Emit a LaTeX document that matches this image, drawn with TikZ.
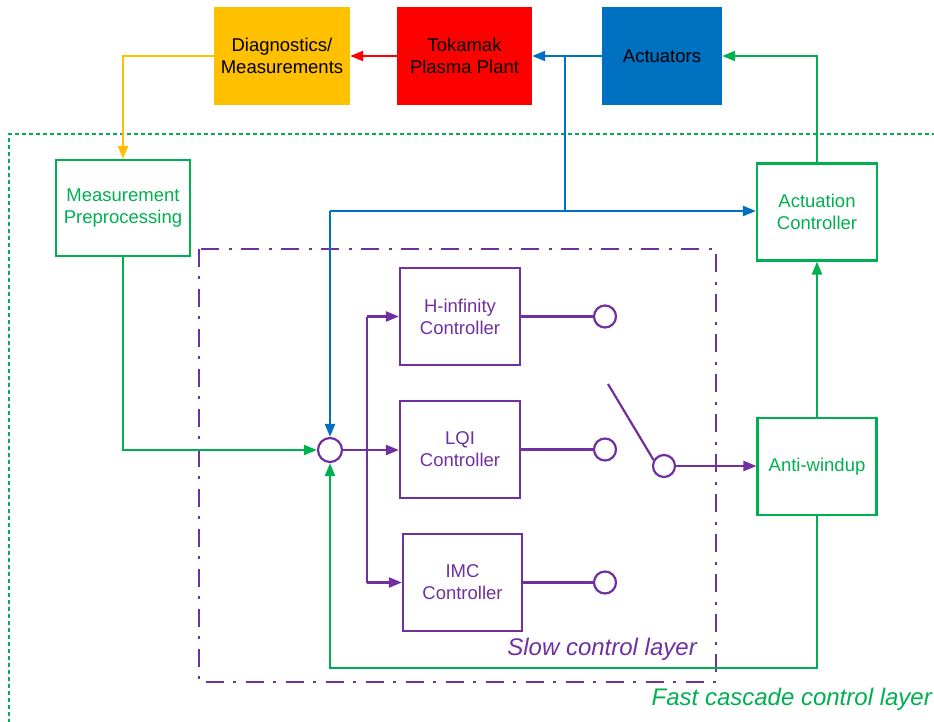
\documentclass[tikz,border=0pt]{standalone}
\usepackage{fontspec}
\setmainfont{Liberation Sans}
\usetikzlibrary{arrows.meta}
\definecolor{cyel}{HTML}{FFC000}
\definecolor{cred}{HTML}{FF0000}
\definecolor{cblue}{HTML}{0070C0}
\definecolor{cgreen}{HTML}{00B050}
\definecolor{cpurp}{HTML}{7030A0}
\tikzset{
  every node/.style={font=\fontsize{18.5}{22}\selectfont, align=center, inner sep=0pt},
  topbox/.style={rectangle, minimum height=98pt},
  gbox/.style={rectangle, draw=cgreen, line width=2.2pt, text=cgreen, minimum width=120pt, minimum height=97pt},
  pbox/.style={rectangle, draw=cpurp, line width=2.2pt, text=cpurp, minimum width=120pt, minimum height=97pt},
  pcirc/.style={circle, draw=cpurp, line width=2.2pt, minimum size=22pt},
  tip/.style={-{Triangle[length=13pt,width=10pt]}},
  conn/.style={line width=2.2pt},
}
\begin{document}
\begin{tikzpicture}[x=1pt,y=-1pt]
\useasboundingbox (0,0) rectangle (934,722);
% outer fast layer
\draw[cgreen, line width=2pt, dash pattern=on 4pt off 3pt] (9,730) -- (9,134) -- (940,134);
% slow layer
\draw[cpurp, line width=2.2pt, dash pattern=on 18pt off 9pt on 3pt off 10pt] (199,249) rectangle (716,682);

% top boxes
\node[topbox, fill=cyel, minimum width=136pt] (diag) at (282,56) {Diagnostics/\\Measurements};
\node[topbox, fill=cred, minimum width=135pt] (tok) at (464.5,56) {Tokamak\\Plasma Plant};
\node[topbox, fill=cblue, minimum width=120pt] (act) at (662,56) {Actuators};

% green boxes
\node[gbox, minimum width=134pt, minimum height=96pt] (meas) at (123,208) {Measurement\\Preprocessing};
\node[gbox] (actc) at (817,212) {Actuation\\Controller};
\node[gbox, minimum width=119pt] (aw) at (817,466.5) {Anti-windup};

% purple boxes
\node[pbox] (hinf) at (460,316.5) {H-infinity\\Controller};
\node[pbox] (lqi) at (460,449.5) {LQI\\Controller};
\node[pbox, minimum width=119pt] (imc) at (462.5,582.5) {IMC\\Controller};

% circles
\node[pcirc, minimum size=24pt] (sum) at (330,450) {};
\node[pcirc] (o1) at (605,316.5) {};
\node[pcirc] (o2) at (605,449.5) {};
\node[pcirc] (o3) at (605,582.5) {};
\node[pcirc] (sw) at (664,466) {};

% coordinates
\coordinate (b1) at (565,56);
\coordinate (bj) at (565,211);
\coordinate (bl) at (330,211);
\coordinate (gb) at (330,668);
\coordinate (pj1) at (367,316.5);
\coordinate (pj3) at (367,582.5);
\coordinate (swt) at (608,384);

% top connectors
\draw[conn, tip, cred] (tok.west) -- (diag.east);
\draw[conn, tip, cblue] (act.west) -- (tok.east);
\draw[conn, tip, cyel] (diag.west) -| (meas.north);
\draw[conn, tip, cgreen] (actc.north) |- (act.east);

% blue feed
\draw[conn, cblue] (b1) -- (bj);
\draw[conn, tip, cblue] (bl) -- (bl -| actc.west);
\draw[conn, tip, cblue] (bl) -- (sum.north);

% green connectors
\draw[conn, tip, cgreen] (meas.south) |- (sum.west);
\draw[conn, tip, cgreen] (aw.south) |- (gb) -- (sum.south);
\draw[conn, tip, cgreen] (aw.north) -- (actc.south);

% purple connectors
\draw[conn, tip, cpurp] (sum.east) -- (sum.east -| lqi.west);
\draw[conn, cpurp] (pj1) -- (pj3);
\draw[conn, tip, cpurp] (pj1) -- (hinf.west);
\draw[conn, tip, cpurp] (pj3) -- (imc.west);
\draw[conn, cpurp] (hinf.east) -- (o1.west);
\draw[conn, cpurp] (lqi.east) -- (o2.west);
\draw[conn, cpurp] (imc.east) -- (o3.west);
\draw[conn, cpurp] (swt) -- (sw.150);
\draw[conn, tip, cpurp] (sw.east) -- (sw.east -| aw.west);

% labels
\node[text=cpurp, font=\fontsize{24}{28}\selectfont\itshape, anchor=east] (slow) at (697,649) {Slow control layer};
\node[text=cgreen, font=\fontsize{24}{28}\selectfont\itshape, anchor=east] (fast) at (932,699) {Fast cascade control layer};
\end{tikzpicture}
\end{document}
